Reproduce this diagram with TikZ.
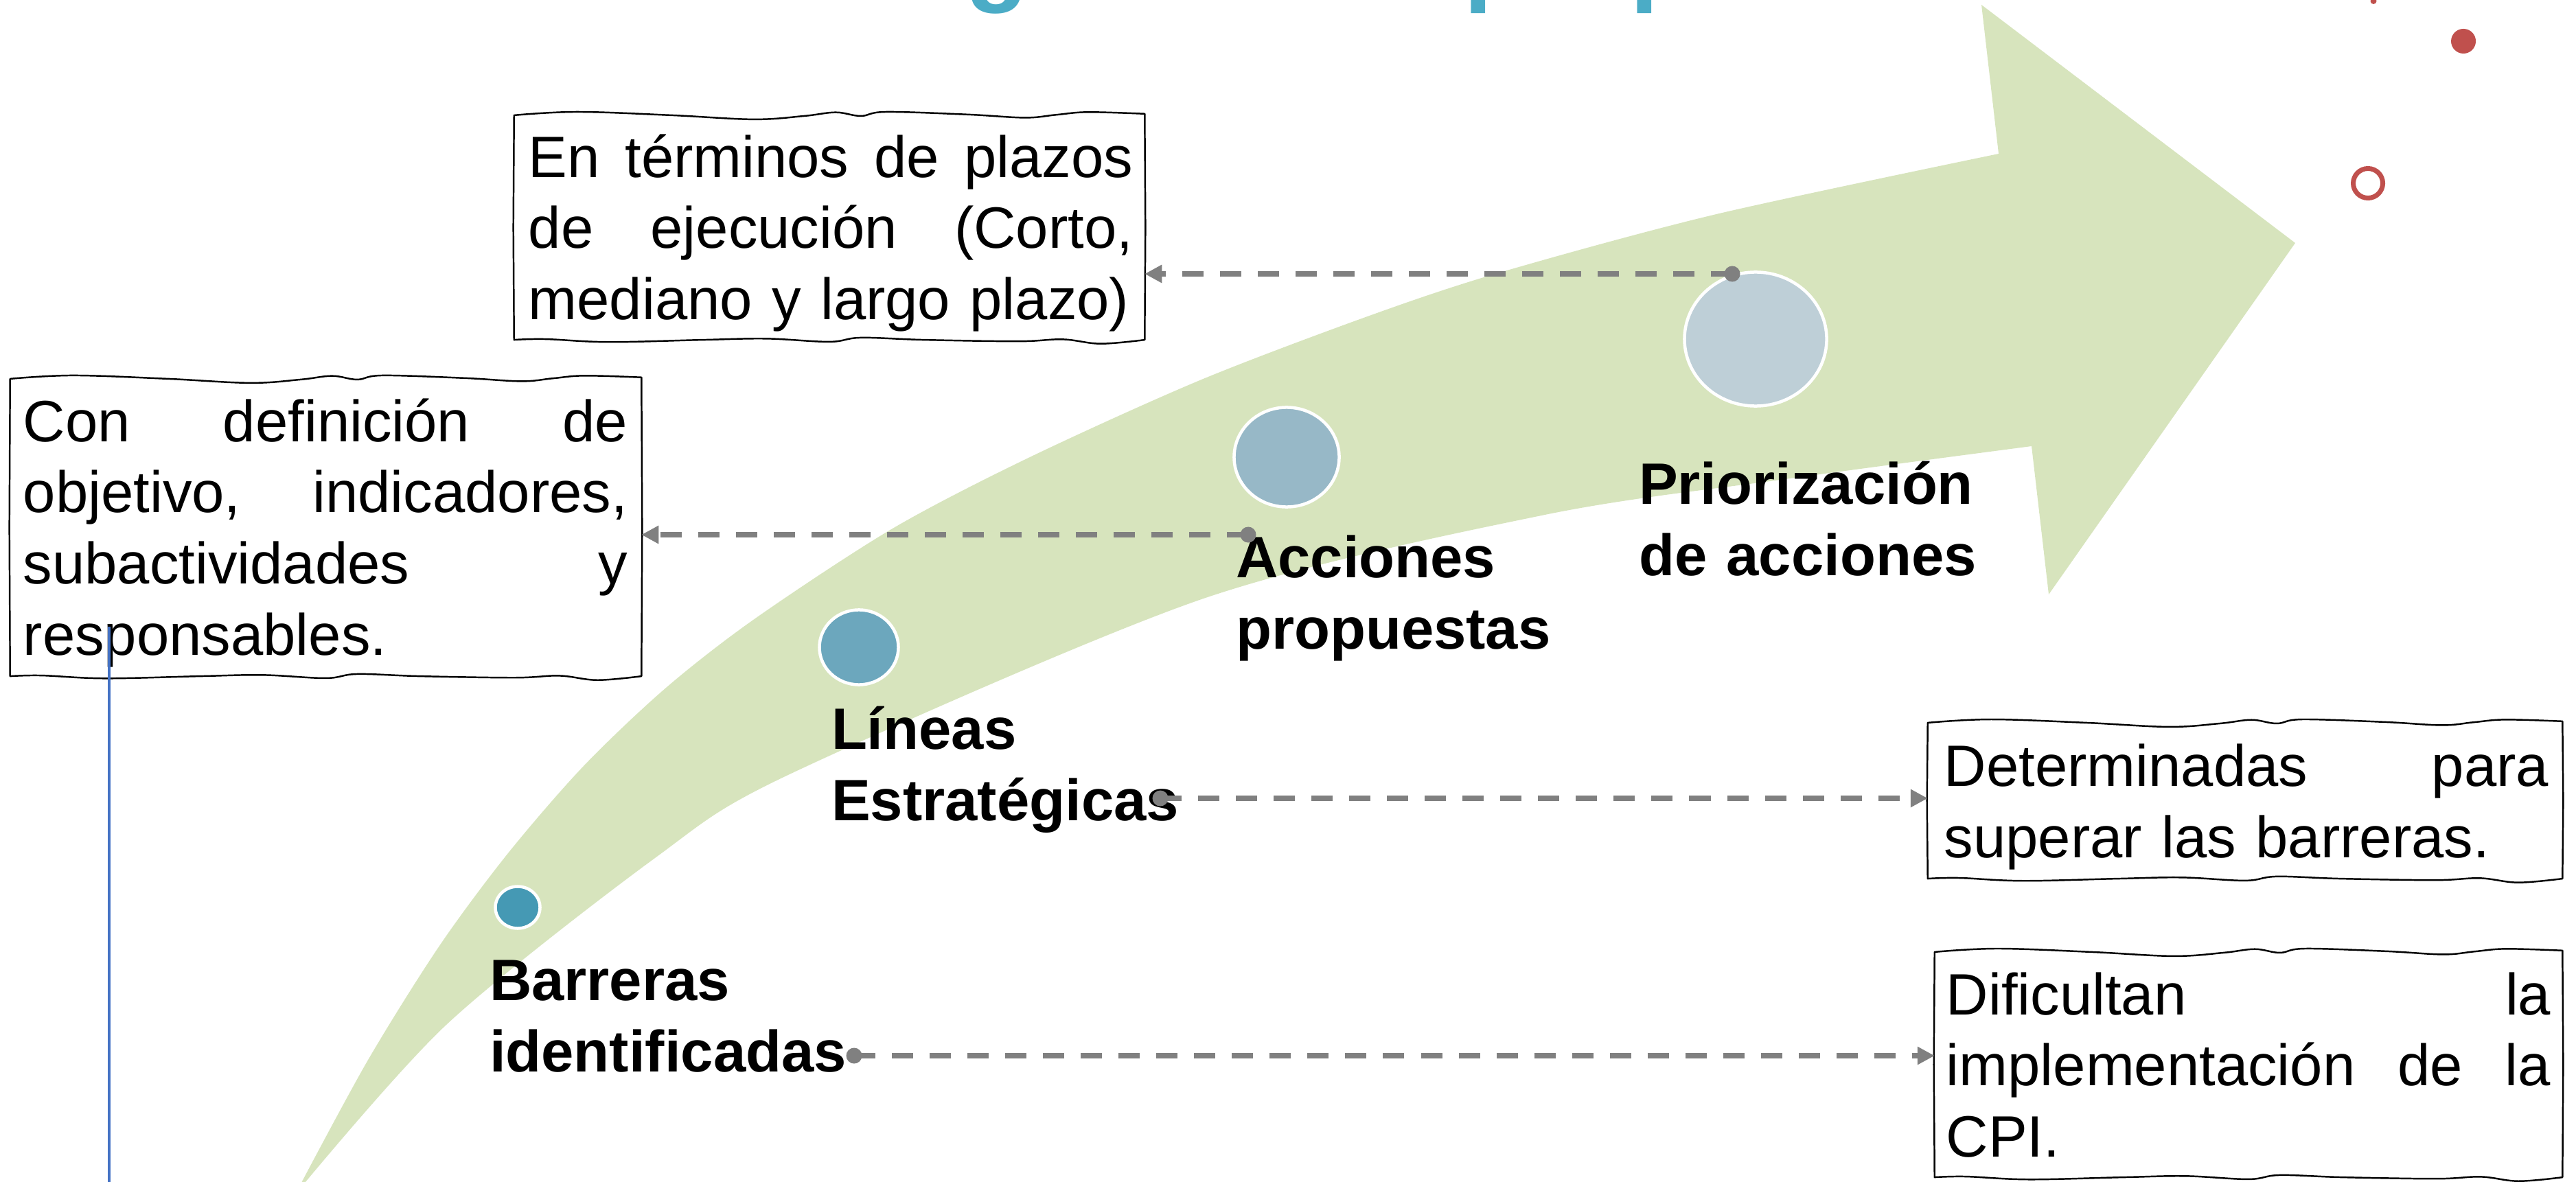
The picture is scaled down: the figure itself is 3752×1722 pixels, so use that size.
\documentclass[tikz,border=0pt]{standalone}
\usepackage{fontspec}
\setmainfont{Liberation Sans}
\usetikzlibrary{arrows.meta,calc,shapes.geometric}

\definecolor{arrowgreen}{HTML}{D7E4BD}
\definecolor{titleblue}{HTML}{4BACC6}
\definecolor{discA}{HTML}{4599B4}
\definecolor{discB}{HTML}{6CA7BD}
\definecolor{discC}{HTML}{97B8C7}
\definecolor{discD}{HTML}{BECFD7}
\definecolor{dashgray}{HTML}{808080}
\definecolor{redaccent}{HTML}{C0504D}
\definecolor{bluerule}{HTML}{4472C4}

\newcommand\jline[1]{{\spaceskip=0pt\xspaceskip=0pt\makebox[8.8cm][s]{#1}}}

\tikzset{
  every node/.style={inner sep=0pt, outer sep=0pt},
  bodytext/.style={anchor=north west, text width=8.8cm, align=left,
    font=\fontsize{24.19pt}{29.45pt}\selectfont},
  steplabel/.style={anchor=north west, text width=6cm, align=left,
    font=\fontsize{24.19pt}{29.45pt}\selectfont\bfseries},
  framebox/.style={rectangle, draw=none, fill=white},
  sketchline/.style={draw=black, line width=0.7pt, line join=round},
  stepdisc/.style={ellipse, draw=white, line width=0.045cm},
  linkdot/.style={circle, fill=dashgray, minimum size=0.23cm},
  linkline/.style={draw=dashgray, line width=0.08cm, dash pattern=on 0.31cm off 0.24cm,
    -{Triangle[length=0.25cm,width=0.25cm]}},
}

\newcommand\sketchframe[1]{%
  \draw[sketchline] let \p1=(#1.north west), \p2=(#1.south east), \n1={\x2-\x1} in
    plot[smooth, tension=0.6] coordinates {(\x1,\y1) (\x1+0.10*\n1,\y1+1.4pt)
      (\x1+0.25*\n1,\y1) (\x1+0.38*\n1,\y1-1.7pt) (\x1+0.46*\n1,\y1-0.3pt)
      (\x1+0.51*\n1,\y1+1.2pt) (\x1+0.55*\n1,\y1-0.3pt) (\x1+0.59*\n1,\y1+1.4pt)
      (\x1+0.72*\n1,\y1+0.3pt) (\x1+0.81*\n1,\y1-1pt) (\x1+0.86*\n1,\y1+0.2pt)
      (\x1+0.91*\n1,\y1+1.3pt) (\x2,\y1+0.6pt)}
    -- (\x2+0.3pt,{0.5*\y1+0.5*\y2})
    -- plot[smooth, tension=0.6] coordinates {(\x2,\y2) (\x2-0.07*\n1,\y2-1.6pt)
      (\x2-0.13*\n1,\y2+0.2pt) (\x2-0.2*\n1,\y2-0.6pt) (\x2-0.35*\n1,\y2)
      (\x2-0.45*\n1,\y2+0.9pt) (\x2-0.5*\n1,\y2-0.8pt) (\x2-0.6*\n1,\y2+0.5pt)
      (\x2-0.7*\n1,\y2) (\x2-0.85*\n1,\y2-0.9pt) (\x2-0.95*\n1,\y2+0.3pt) (\x1,\y2)}
    -- (\x1-0.3pt,{0.5*\y1+0.5*\y2}) -- cycle;}

\begin{document}
\begin{tikzpicture}[x=0.01cm, y=-0.01cm]
\useasboundingbox (0,0) rectangle (3752,1722);
\clip (0,0) rectangle (3752,1722);

% big curved arrow
\fill[arrowgreen]
  plot[smooth, tension=0.5] coordinates {(430,1740) (535,1546) (640,1378) (740,1243)
    (850,1116) (970,1002) (1100,901) (1300,770) (1500,666) (1750,553) (2000,458)
    (2188,396) (2500,312) (2911,224)}
  -- (2886,7) -- (3343,354) -- (2984,866) -- (2959,650)
  -- plot[smooth, tension=0.5] coordinates {(2959,650) (2600,698) (2250,750) (1750,873)
    (1150,1128) (954,1250) (650,1493) (430,1740)}
  -- cycle;

% discs on the arrow
\node[stepdisc, fill=discA, minimum width=0.65cm, minimum height=0.61cm] (cA) at (754,1322) {};
\node[stepdisc, fill=discB, minimum width=1.15cm, minimum height=1.09cm] (cB) at (1251,943) {};
\node[stepdisc, fill=discC, minimum width=1.53cm, minimum height=1.45cm] (cC) at (1874,666) {};
\node[stepdisc, fill=discD, minimum width=2.07cm, minimum height=1.95cm] (cD) at (2557,494) {};

% step labels
\node[steplabel] (lbA) at (713,1385) {\strut Barreras\\identificadas};
\node[steplabel] (lbB) at (1211,1019) {\strut Líneas\\Estratégicas};
\node[steplabel] (lbC) at (1800,769) {\strut Acciones\\propuestas};
\node[steplabel] (lbD) at (2387,662) {\strut Priorización\\de acciones};

% boxes
\node[framebox, minimum width=9.18cm, minimum height=3.27cm] (box1) at (1208,331.5) {};
\node[framebox, minimum width=9.19cm, minimum height=4.33cm] (box2) at (474.5,768.5) {};
\node[framebox, minimum width=9.24cm, minimum height=2.27cm] (box3) at (3270,1166.5) {};
\node[framebox, minimum width=9.14cm, minimum height=3.28cm] (box4) at (3275,1551) {};
\sketchframe{box1}
\sketchframe{box2}
\sketchframe{box3}
\sketchframe{box4}

\node[bodytext] (t1) at ($(box1.north west)+(21,18)$)
  {\strut\jline{En términos de plazos}\\\jline{de ejecución (Corto,}\\mediano y largo plazo)};
\node[bodytext] (t2) at ($(box2.north west)+(19,19)$)
  {\strut\jline{Con definición de}\\\jline{objetivo, indicadores,}\\\jline{subactividades y}\\responsables.};
\node[bodytext] (t3) at ($(box3.north west)+(24,20)$)
  {\strut\jline{Determinadas para}\\superar las barreras.};
\node[bodytext] (t4) at ($(box4.north west)+(17,19)$)
  {\strut\jline{Dificultan la}\\\jline{implementación de la}\\CPI.};

% dots and dashed connectors
\node[linkdot] (dA) at (1244,1538) {};
\node[linkdot] (dB) at (1690,1163) {};
\node[linkdot] (dC) at (1818,779) {};
\node[linkdot] (dD) at (2523,399) {};
\draw[linkline] (dD.center) -- (dD.center -| box1.east);
\draw[linkline] (dC.center) -- (dC.center -| box2.east);
\draw[linkline] (dB.center) -- (dB.center -| box3.west);
\draw[linkline] (dA.center) -- (dA.center -| box4.west);

% blue vertical rule
\coordinate (ruletop) at (159,913);
\coordinate (rulebottom) at (159,1730);
\draw[bluerule, line width=0.04cm] (ruletop) -- (rulebottom);

% red accents
\node[circle, fill=redaccent, minimum size=0.36cm] (reddot) at (3588,60) {};
\node[circle, draw=redaccent, line width=0.07cm, minimum size=0.43cm] (redring) at (3449,267) {};
\node[circle, fill=redaccent, minimum size=0.09cm] (redtip) at (3457,1.5) {};

% title (only its descenders fall inside the picture)
\node[anchor=base west, text=titleblue, font=\fontsize{42.68pt}{50pt}\selectfont\bfseries]
  (title) at (898,-11) {Estrategias de la propuesta};
\end{tikzpicture}
\end{document}
